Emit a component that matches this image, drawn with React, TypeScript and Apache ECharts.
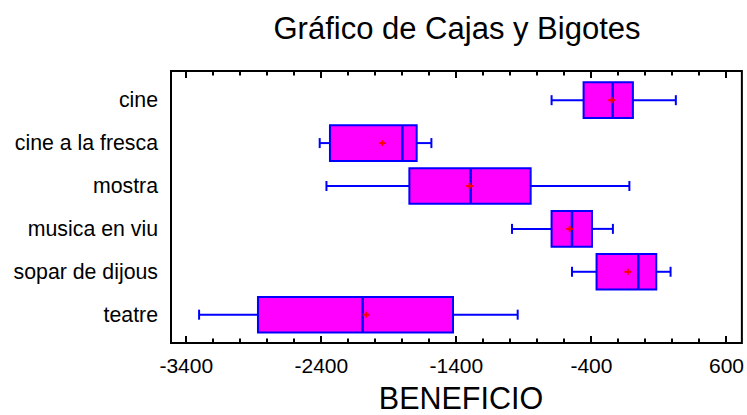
import React, { useEffect, useRef } from "react";
import * as echarts from "echarts";

// Activity names, top to bottom
const categories = [
  "cine",
  "cine a la fresca",
  "mostra",
  "musica en viu",
  "sopar de dijous",
  "teatre",
];

// Five-number summaries plus the mean for each activity (BENEFICIO)
const whiskerLow = [-695, -2412, -2362, -988, -544, -3305];
const quartile1 = [-458, -2336, -1748, -695, -362, -2869];
const medians = [-243, -1800, -1294, -544, -53, -2094];
const quartile3 = [-93, -1694, -850, -396, 80, -1425];
const whiskerHigh = [225, -1585, -119, -241, 186, -946];
const means = [-250, -1948, -1302, -561, -130, -2068];

const majorTicks = [-3400, -2400, -1400, -400, 600];
const minorTicks = [
  -3200, -3000, -2800, -2600, -2200, -2000, -1800, -1600, -1200, -1000, -800,
  -600, -200, 0, 200, 400,
];

const FONT = "'Liberation Sans', Arial, Helvetica, sans-serif";

// Axis extents
const X_MIN = -3513;
const X_MAX = 714;
const Y_MIN = -0.68;
const Y_MAX = 5.66;

export default function App() {
  const ref = useRef<HTMLDivElement>(null);

  useEffect(() => {
    if (!ref.current) return;
    const chart = echarts.init(ref.current, null, { renderer: "svg" });

    const rows = categories.map((_, i) => [
      i,
      whiskerLow[i],
      quartile1[i],
      medians[i],
      quartile3[i],
      whiskerHigh[i],
      means[i],
    ]);

    const tickRows = [
      ...majorTicks.map((v) => [v, 1]),
      ...minorTicks.map((v) => [v, 0]),
    ];

    const blue = "#0000ff";

    chart.setOption({
      animation: false,
      backgroundColor: "#ffffff",
      grid: {
        left: 171,
        top: 71,
        width: 571,
        height: 272,
        show: true,
        borderColor: "#000000",
        borderWidth: 2,
      },
      xAxis: {
        type: "value",
        min: X_MIN,
        max: X_MAX,
        position: "bottom",
        axisLine: { show: false, onZero: false },
        splitLine: { show: false },
        axisTick: { show: false },
        axisLabel: {
          show: true,
          customValues: majorTicks,
          formatter: (v: number) => String(v),
          margin: 12,
          color: "#000",
          fontFamily: FONT,
          fontSize: 21,
        },
      },
      yAxis: {
        type: "value",
        inverse: true,
        min: Y_MIN,
        max: Y_MAX,
        axisLine: { show: false, onZero: false },
        axisTick: { show: false },
        splitLine: { show: false },
        axisLabel: {
          show: true,
          customValues: categories.map((_, i) => i),
          formatter: (v: number) => categories[Math.round(v)] ?? "",
          margin: 13,
          color: "#000",
          fontFamily: FONT,
          fontSize: 21.3,
        },
      },
      graphic: [
        {
          type: "text",
          x: 457,
          y: 28.5,
          style: {
            text: "Gráfico de Cajas y Bigotes",
            fill: "#000",
            font: `31px ${FONT}`,
            align: "center",
            verticalAlign: "middle",
          },
        },
        {
          type: "text",
          x: 461,
          y: 398,
          style: {
            text: "BENEFICIO",
            fill: "#000",
            font: `30.5px ${FONT}`,
            align: "center",
            verticalAlign: "middle",
          },
        },
      ],
      series: [
        {
          type: "custom",
          data: rows,
          encode: { x: [1, 2, 3, 4, 5, 6], y: 0 },
          renderItem: (_params: any, api: any) => {
            const y = api.value(0);
            const pLow = api.coord([api.value(1), y]);
            const pQ1 = api.coord([api.value(2), y]);
            const pMed = api.coord([api.value(3), y]);
            const pQ3 = api.coord([api.value(4), y]);
            const pHigh = api.coord([api.value(5), y]);
            const pMean = api.coord([api.value(6), y]);
            const unit = Math.abs(api.size([0, 1])[1]);
            const half = unit * 0.415;
            const cap = 5;
            const cy = pLow[1];
            const wl = { stroke: blue, lineWidth: 2 };
            return {
              type: "group",
              children: [
                {
                  type: "line",
                  shape: { x1: pLow[0], y1: cy, x2: pQ1[0], y2: cy },
                  style: wl,
                },
                {
                  type: "line",
                  shape: { x1: pQ3[0], y1: cy, x2: pHigh[0], y2: cy },
                  style: wl,
                },
                {
                  type: "line",
                  shape: { x1: pLow[0], y1: cy - cap, x2: pLow[0], y2: cy + cap },
                  style: wl,
                },
                {
                  type: "line",
                  shape: { x1: pHigh[0], y1: cy - cap, x2: pHigh[0], y2: cy + cap },
                  style: wl,
                },
                {
                  type: "rect",
                  shape: {
                    x: pQ1[0],
                    y: cy - half,
                    width: pQ3[0] - pQ1[0],
                    height: half * 2,
                  },
                  style: { fill: "#ff00ff", stroke: blue, lineWidth: 2 },
                },
                {
                  type: "line",
                  shape: { x1: pMed[0], y1: cy - half, x2: pMed[0], y2: cy + half },
                  style: { stroke: blue, lineWidth: 2.5 },
                },
                {
                  type: "line",
                  shape: { x1: pMean[0] - 3.5, y1: cy, x2: pMean[0] + 3.5, y2: cy },
                  style: { stroke: "#ff0000", lineWidth: 2 },
                },
                {
                  type: "line",
                  shape: { x1: pMean[0], y1: cy - 3, x2: pMean[0], y2: cy + 3 },
                  style: { stroke: "#ff0000", lineWidth: 2 },
                },
              ],
            };
          },
        },
        {
          // inward tick marks on the top and bottom frame edges
          type: "custom",
          z: 10,
          data: tickRows,
          encode: { x: 0 },
          renderItem: (_params: any, api: any) => {
            const v = api.value(0);
            const len = api.value(1) === 1 ? 7 : 4.5;
            const top = api.coord([v, Y_MIN]);
            const bottom = api.coord([v, Y_MAX]);
            const x = Math.round(top[0]);
            const st = { stroke: "#000000", lineWidth: 2 };
            return {
              type: "group",
              children: [
                {
                  type: "line",
                  shape: { x1: x, y1: top[1], x2: x, y2: top[1] + len },
                  style: st,
                },
                {
                  type: "line",
                  shape: { x1: x, y1: bottom[1], x2: x, y2: bottom[1] - len },
                  style: st,
                },
              ],
            };
          },
        },
      ],
    });

    return () => chart.dispose();
  }, []);

  return (
    <div
      ref={ref}
      style={{ position: "fixed", left: 0, top: 0, width: 747, height: 415 }}
    />
  );
}
